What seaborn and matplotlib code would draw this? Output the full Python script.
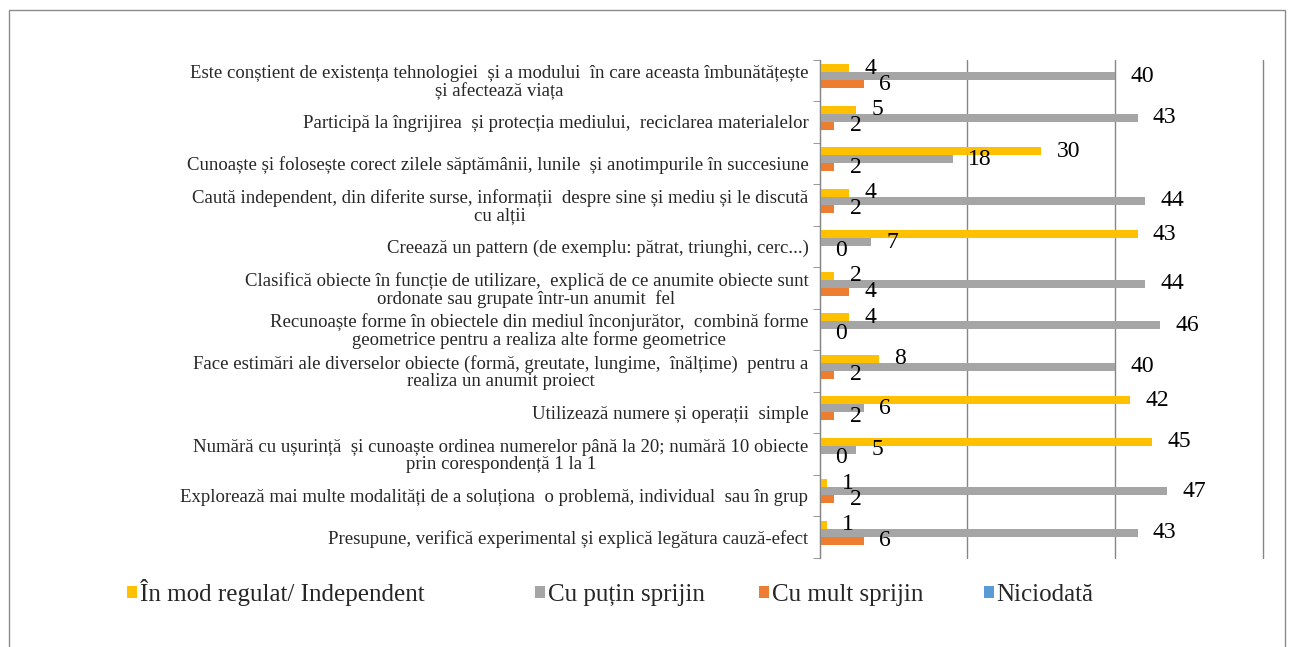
import numpy as np
import pandas as pd
import matplotlib.pyplot as plt
import seaborn as sns
from matplotlib.patches import Patch, Rectangle

categories = [
    "Este conștient de existența tehnologiei  și a modului  în care aceasta îmbunătățește\nși afectează viața",
    "Participă la îngrijirea  și protecția mediului,  reciclarea materialelor",
    "Cunoaște și folosește corect zilele săptămânii, lunile  și anotimpurile în succesiune",
    "Caută independent, din diferite surse, informații  despre sine și mediu și le discută\ncu alții",
    "Creează un pattern (de exemplu: pătrat, triunghi, cerc...)",
    "Clasifică obiecte în funcție de utilizare,  explică de ce anumite obiecte sunt\nordonate sau grupate într-un anumit  fel",
    "Recunoaște forme în obiectele din mediul înconjurător,  combină forme\ngeometrice pentru a realiza alte forme geometrice",
    "Face estimări ale diverselor obiecte (formă, greutate, lungime,  înălțime)  pentru a\nrealiza un anumit proiect",
    "Utilizează numere și operații  simple",
    "Numără cu ușurință  și cunoaște ordinea numerelor până la 20; numără 10 obiecte\nprin corespondență 1 la 1",
    "Explorează mai multe modalități de a soluționa  o problemă, individual  sau în grup",
    "Presupune, verifică experimental și explică legătura cauză-efect",
]
series = ["În mod regulat/ Independent", "Cu puțin sprijin", "Cu mult sprijin", "Niciodată"]
regulat = [4, 5, 30, 4, 43, 2, 4, 8, 42, 45, 1, 1]
putin = [40, 43, 18, 44, 7, 44, 46, 40, 6, 5, 47, 43]
mult = [6, 2, 2, 2, 0, 4, 0, 2, 2, 0, 2, 6]
niciodata = [0] * 12
colors = ["#FFC000", "#A5A5A5", "#ED7D31", "#5B9BD5"]

rows = []
for name, vals in zip(series, [regulat, putin, mult, niciodata]):
    for c, v in zip(categories, vals):
        rows.append({"cat": c, "val": v, "serie": name})
df = pd.DataFrame(rows)

sns.set_style("white")
plt.rcParams['font.family'] = ['Liberation Serif', 'DejaVu Serif']

fig = plt.figure(figsize=(12.92, 6.47), dpi=100)
ax = fig.add_axes([819.5 / 1292, 1 - 557.5 / 647, (1263.3 - 819.5) / 1292, 498 / 647])

sns.barplot(data=df, y="cat", x="val", hue="serie", hue_order=series, order=categories,
            orient="h", palette=colors, width=0.77, saturation=1, legend=False,
            linewidth=0, ax=ax, errorbar=None)

for cont in ax.containers[:3]:
    ax.bar_label(cont, padding=11, fontsize=17, color="black")

ax.set_xlim(0, 60)
ax.set_ylim(11.5, -0.5)
ax.set_xticks([0, 20, 40, 60])
ax.set_xticklabels([])
ax.xaxis.grid(True, color="#868686", linewidth=1)
for gl in ax.get_xgridlines():
    gl.set_clip_on(False)
ax.set_axisbelow(True)
ax.set_xlabel("")
ax.set_ylabel("")
for s in ["top", "right", "bottom"]:
    ax.spines[s].set_visible(False)
ax.spines["left"].set_color("#868686")
ax.tick_params(axis="x", length=0)
ax.tick_params(axis="y", which="major", length=0, labelsize=13.5, pad=8)
ax.set_yticks(np.arange(-0.5, 12, 1), minor=True)
ax.tick_params(axis="y", which="minor", length=5, color="#868686", left=True)
for lab in ax.get_yticklabels():
    lab.set_multialignment("center")
    lab.set_linespacing(1.0)

# legend entries placed like the original
leg_x = [127, 535, 759, 984]
for name, col, x in zip(series, colors, leg_x):
    fig.legend(handles=[Patch(facecolor=col, edgecolor="none")], labels=[name],
               loc="lower left", bbox_to_anchor=(x / 1292, 1 - 606 / 647),
               frameon=False, fontsize=18, handlelength=0.38, handleheight=0.38,
               handletextpad=0.12, borderpad=0, borderaxespad=0)

fig.patches.append(Rectangle((9 / 1292, -0.05), 1276 / 1292, 1.05 - 10 / 647,
                             transform=fig.transFigure, fill=False,
                             edgecolor="#8C8C8C", linewidth=1))

fig.savefig("out.png", dpi=100)
